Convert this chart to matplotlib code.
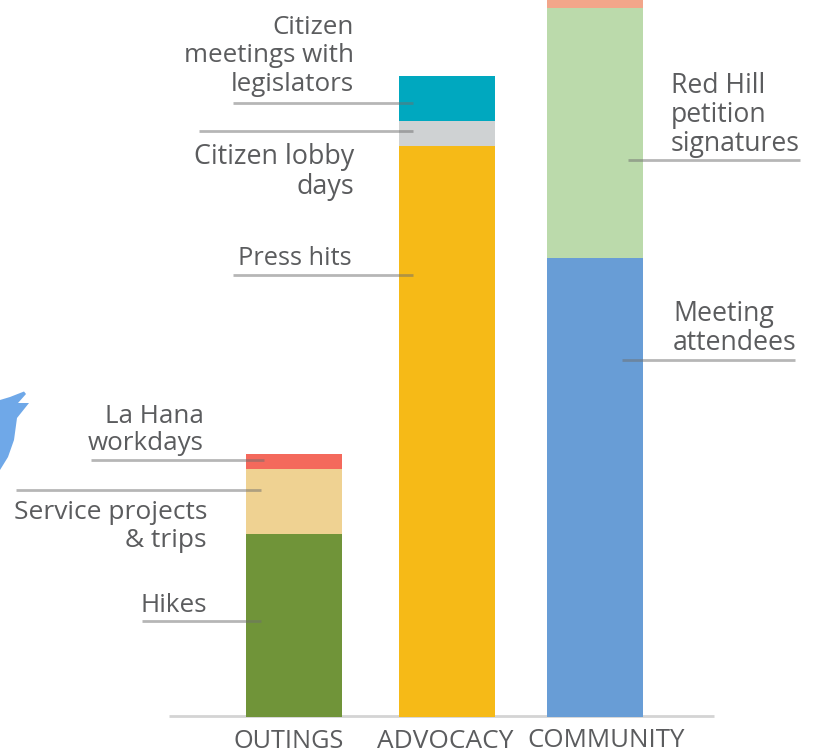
import matplotlib
matplotlib.use("Agg")
import matplotlib.pyplot as plt
from matplotlib.patches import Polygon

categories = ["OUTINGS", "ADVOCACY", "COMMUNITY"]
outings_values = [183, 65, 15]
advocacy_values = [571, 25, 45]
community_values = [459, 250, 30]
outings_colors = ["#709439", "#EFD292", "#F4695C"]
advocacy_colors = ["#F6BA17", "#CFD2D3", "#00A8BF"]
community_colors = ["#689DD6", "#BBDAAB", "#F2A68A"]
centers = [294, 447, 595]
tick_label_x = [289, 445, 606]

plt.rcParams["font.family"] = ["Open Sans", "DejaVu Sans"]
TXT = "#5B5C5E"

fig = plt.figure(figsize=(8.24, 7.54), dpi=100)
ax = fig.add_axes([0, 0, 1, 1])
ax.set_xlim(0, 824)
ax.set_ylim(-37, 717)
ax.axis("off")

for x, vals, cols in zip(centers, [outings_values, advocacy_values, community_values],
                         [outings_colors, advocacy_colors, community_colors]):
    bottom = 0
    for v, c in zip(vals, cols):
        ax.bar(x, v, width=96, bottom=bottom, color=c, linewidth=0, zorder=2)
        bottom += v

# baseline
ax.plot([169, 714], [0.7, 0.7], color="#D4D4D4", lw=2.0, zorder=1, solid_capstyle="butt")

for x, c, yp, fs in zip(tick_label_x, categories, [748, 748, 747], [18.2, 18.9, 18.6]):
    ax.text(x, 717 - yp, c, ha="center", va="baseline", fontsize=fs, color=TXT)

# annotations: x, pixel y of last-line baseline, text, align, size, line spacing
labels = [
    (354, 91, "Citizen\nmeetings with\nlegislators", "right", 18.7, 1.19),
    (354, 194, "Citizen lobby\ndays", "right", 19.4, 1.09),
    (352, 265, "Press hits", "right", 18.3, 1.09),
    (204, 450, "La Hana\nworkdays", "right", 18.7, 1.11),
    (207, 547, "Service projects\n& trips", "right", 19, 1.17),
    (207, 612, "Hikes", "right", 18.8, 1.09),
    (671, 151, "Red Hill\npetition\nsignatures", "left", 19.1, 1.05),
    (673, 350, "Meeting\nattendees", "left", 19.2, 1.07),
]
for x, yp, t, ha, fs, ls in labels:
    ax.text(x, 717 - yp, t, ha=ha, va="baseline", ma=ha, fontsize=fs, color=TXT,
            linespacing=ls, zorder=4)

leaders = [
    (233, 413, 103), (199, 413, 131), (233, 413, 275),
    (91, 264, 460), (16, 261, 490), (142, 261, 621),
    (628, 800, 160), (622, 795, 360),
]
for x0, x1, yp in leaders:
    ax.plot([x0, x1], [717 - yp, 717 - yp], color="#6E6E6E", alpha=0.5, lw=2.0,
            solid_capstyle="butt", zorder=5)

# decorative bird wing at the left edge
bird = [(0, 400), (10, 397), (24, 391.5), (26, 394), (18, 403), (29, 403), (17, 418),
        (14, 440), (8, 457), (0, 470)]
ax.add_patch(Polygon([(x, 717 - y) for x, y in bird], closed=True, color="#6FA8E8", lw=0, zorder=1))

fig.savefig("out.png", dpi=100)
